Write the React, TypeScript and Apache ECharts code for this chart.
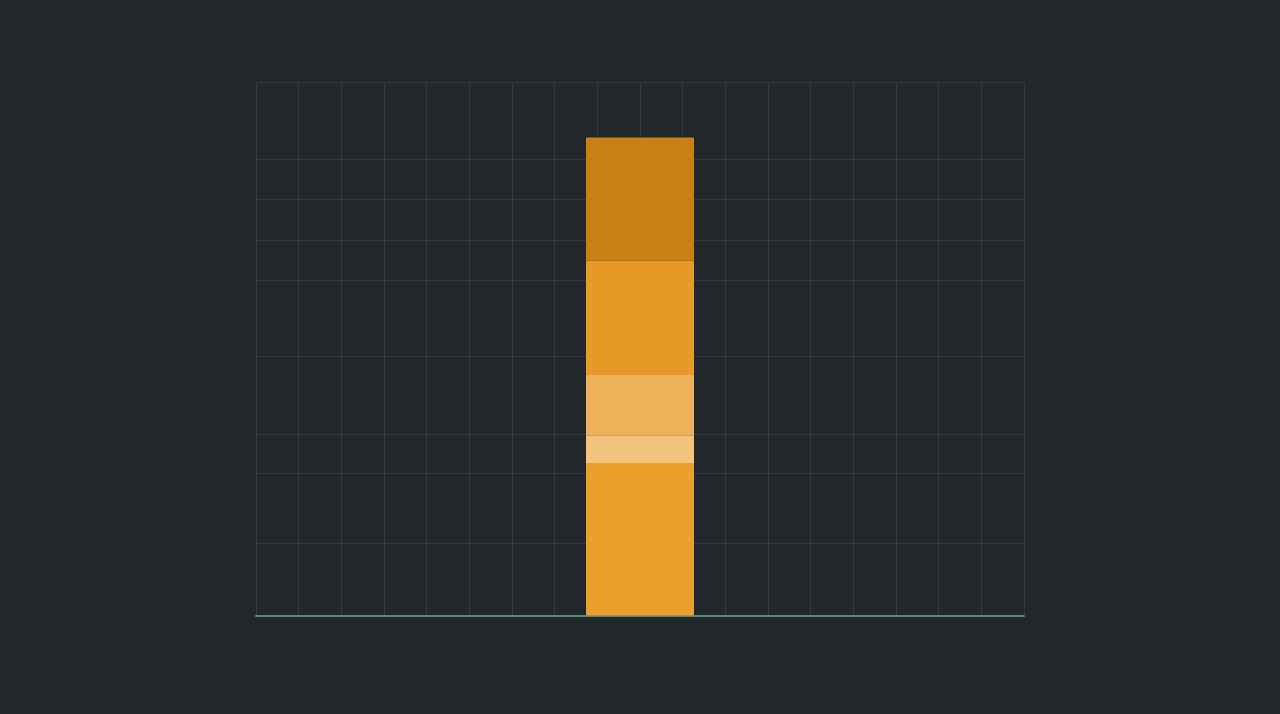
import React, { useEffect, useRef } from 'react'
import * as echarts from 'echarts'

// one stacked column, bottom segment first
const categories = ['total']
const segNames = ['base', 'band', 'mid', 'upper', 'top']
const segValues = [28.6, 5.2, 11.3, 21.4, 23.1]
const segColors = ['#eca02c', '#f2c37d', '#eeb15a', '#e79a27', '#c98014']

// uneven horizontal guide levels on the 0..100 y scale
const gridLevels = [13.6, 26.7, 34.0, 48.6, 62.9, 70.4, 78.1, 85.6, 100]
const columnCount = 18

const BG = '#22272c'
const GRID = '#343a43'

export default function App(): JSX.Element {
  const ref = useRef<HTMLDivElement>(null)

  useEffect(() => {
    if (!ref.current) return
    const chart = echarts.init(ref.current, null, { renderer: 'svg' })
    chart.setOption({
      animation: false,
      backgroundColor: BG,
      grid: { left: 256, right: 256, top: 82, bottom: 98.5 },
      xAxis: [
        {
          type: 'category', data: categories,
          axisLine: { show: true, lineStyle: { color: '#4e9070', width: 2 } },
          axisTick: { show: false }, axisLabel: { show: false }, splitLine: { show: false },
        },
        {
          type: 'value', min: 0, max: columnCount, interval: 1, position: 'bottom',
          axisLine: { show: false }, axisTick: { show: false }, axisLabel: { show: false },
          splitLine: { show: true, lineStyle: { color: GRID, width: 1 } },
        },
      ],
      yAxis: {
        type: 'value', min: 0, max: 100,
        axisLine: { show: false }, axisTick: { show: false }, axisLabel: { show: false },
        splitLine: { show: false },
      },
      series: [
        {
          type: 'line', data: [], z: 1, silent: true,
          markLine: {
            z: 1, silent: true, symbol: 'none', label: { show: false },
            lineStyle: { color: GRID, width: 1, type: 'solid' },
            data: gridLevels.map(v => ({ yAxis: v })),
          },
        },
        ...segValues.map((v, i) => ({
          name: segNames[i], type: 'bar', stack: 'col', xAxisIndex: 0, z: 4,
          barWidth: 108, data: [v], itemStyle: { color: segColors[i] },
        })),
      ],
    })
    return () => chart.dispose()
  }, [])

  return <div ref={ref} style={{ position: 'fixed', left: 0, top: 0, width: '100vw', height: '100vh' }} />
}
